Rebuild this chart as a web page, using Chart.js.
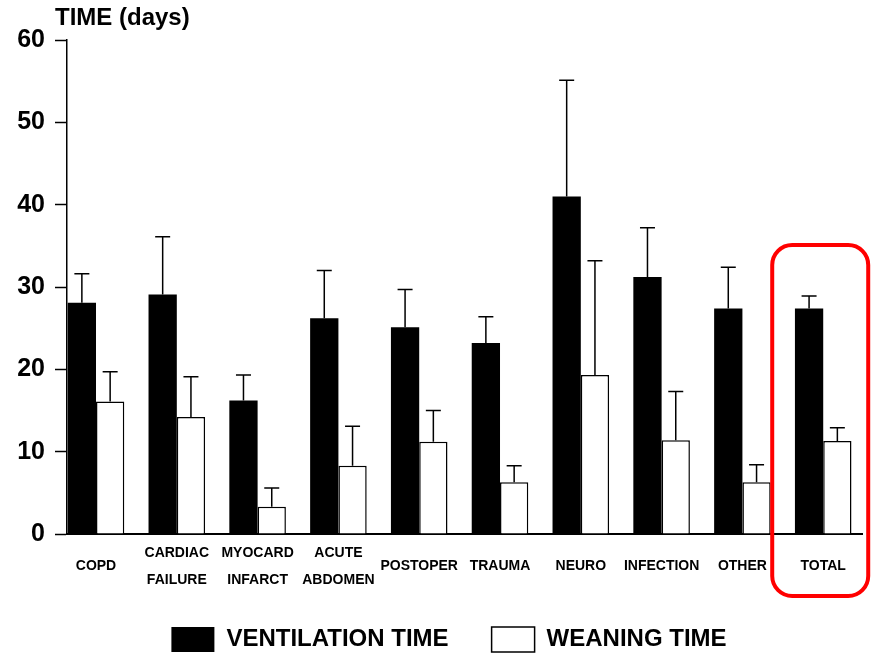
<!DOCTYPE html>
<html><head><meta charset="utf-8">
<script src="https://cdn.jsdelivr.net/npm/chart.js@4.4.1/dist/chart.umd.min.js"></script>
<style>html,body{margin:0;padding:0;background:#fff;}#wrap{width:872px;height:655px;}</style>
</head><body><div id="wrap"><canvas id="c" width="872" height="655"></canvas></div>
<script>
const categories = [['COPD'], ['CARDIAC','FAILURE'], ['MYOCARD','INFARCT'], ['ACUTE','ABDOMEN'], ['POSTOPER'], ['TRAUMA'], ['NEURO'], ['INFECTION'], ['OTHER'], ['TOTAL']];
const ventilation   = [28.1, 29.1, 16.2, 26.2, 25.1, 23.2, 41.0, 31.2, 27.4, 27.4];
const ventilationSD = [3.5, 7.0, 3.1, 5.8, 4.6, 3.2, 14.1, 6.0, 5.0, 1.5];
const weaning       = [16.1, 14.2, 3.3, 8.3, 11.2, 6.3, 19.3, 11.4, 6.3, 11.3];
const weaningSD     = [3.6, 4.9, 2.3, 4.8, 3.8, 2.0, 13.9, 5.9, 2.1, 1.6];
const yTicks = [0, 10, 20, 30, 40, 50, 60];
const seriesNames = ['VENTILATION TIME', 'WEANING TIME'];
const yTitle = 'TIME (days)';
const highlightIndex = 9;

const FONT = "'Liberation Sans', Arial, Helvetica, sans-serif";
const sds = [ventilationSD, weaningSD];

const errorBars = {
  id: 'errorBars',
  afterDatasetsDraw(chart) {
    const ctx = chart.ctx, ys = chart.scales.y;
    ctx.save();
    ctx.strokeStyle = '#000'; ctx.lineWidth = 1.5;
    chart.data.datasets.forEach((ds, di) => {
      const meta = chart.getDatasetMeta(di);
      meta.data.forEach((bar, i) => {
        const top = ys.getPixelForValue(ds.data[i].y + sds[di][i]);
        ctx.beginPath();
        ctx.moveTo(bar.x, bar.y); ctx.lineTo(bar.x, top);
        ctx.moveTo(bar.x - 7.5, top); ctx.lineTo(bar.x + 7.5, top);
        ctx.stroke();
      });
    });
    ctx.restore();
  }
};

const extras = {
  id: 'extras',
  afterLayout(chart) {
    // legend in the reference sits slightly right of centre
    if (chart.legend) { chart.legend.left += 13; chart.legend.right += 13; }
  },
  afterDraw(chart) {
    const ctx = chart.ctx, ca = chart.chartArea, xs = chart.scales.x, ys = chart.scales.y;
    ctx.save();
    ctx.fillStyle = '#000';
    ctx.font = 'bold 24px ' + FONT;
    ctx.textAlign = 'left'; ctx.textBaseline = 'alphabetic';
    ctx.fillText(yTitle, ca.left - 12, 25);
    // highlight box around TOTAL
    const cx = xs.getPixelForValue(highlightIndex);
    const l = cx - 51, r = cx + 45, t = ys.getPixelForValue(35.1), b = ca.bottom + 62, rad = 20;
    ctx.strokeStyle = '#ff0000'; ctx.lineWidth = 4;
    ctx.beginPath();
    ctx.roundRect(l, t, r - l, b - t, rad);
    ctx.stroke();
    ctx.restore();
  }
};

new Chart(document.getElementById('c'), {
  type: 'bar',
  data: {
    datasets: [
      { label: seriesNames[0], data: ventilation.map((v, i) => ({x: i, y: v})),
        backgroundColor: '#000', borderColor: '#000', borderWidth: 0,
        categoryPercentage: 0.7, barPercentage: 1 },
      { label: seriesNames[1], data: weaning.map((v, i) => ({x: i, y: v})),
        backgroundColor: '#fff', borderColor: '#000', borderWidth: 1.5,
        categoryPercentage: 0.7, barPercentage: 1 }
    ]
  },
  options: {
    responsive: false, animation: false,
    layout: { padding: { left: 10, right: 10, top: 40, bottom: 0 } },
    plugins: {
      tooltip: { enabled: false },
      legend: {
        position: 'bottom', maxHeight: 71,
        labels: { boxWidth: 43, boxHeight: 25, padding: 43, color: '#000',
          font: { family: FONT, size: 24, weight: 'bold' } }
      }
    },
    scales: {
      x: {
        type: 'linear', min: -0.359, max: 9.48, offset: false,
        afterBuildTicks: s => { s.ticks = categories.map((c, i) => ({ value: i })); },
        afterFit: s => { s.height = 50; },
        grid: { display: true, drawOnChartArea: false, drawTicks: false, offset: false },
        border: { display: true, color: '#000', width: 2 },
        ticks: {
          autoSkip: false, maxRotation: 0, minRotation: 0, padding: 12, color: '#000',
          font: { family: FONT, size: 14, weight: 'bold', lineHeight: '13.5px' },
          callback: v => { const c = categories[v]; if (!c) return ''; return c.length === 1 ? ['', c[0]] : [c[0], '', c[1]]; }
        }
      },
      y: {
        min: 0, max: 60,
        afterBuildTicks: s => { s.ticks = yTicks.map(v => ({ value: v })); },
        afterFit: s => { s.width = 57; },
        grid: { drawOnChartArea: false, drawTicks: true, tickLength: 12, tickWidth: 1.5, tickColor: '#000' },
        border: { display: true, color: '#000', width: 1.5 },
        ticks: { padding: 10, color: '#000', font: { family: FONT, size: 25, weight: 'bold' } }
      }
    }
  },
  plugins: [errorBars, extras]
});
</script></body></html>
